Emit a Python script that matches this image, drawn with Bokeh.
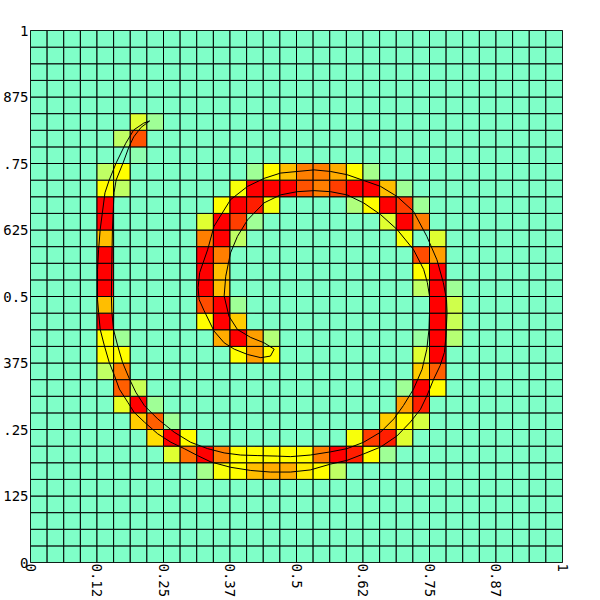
import math
from bokeh.plotting import figure
from bokeh.models import ColumnDataSource, FixedTicker, LinearColorMapper
from bokeh.embed import file_html
from bokeh.resources import INLINE

# ---------------- data ----------------
grid_n = 32

# cells that are not background: row index -> columns and levels (0..8 scale)
row_ids = [26, 25, 24, 23, 22, 21, 20, 19, 18, 17, 16, 15, 14, 13, 12, 11, 10, 9, 8, 7, 6, 5]
row_cols = [
    [6, 7],
    [5, 6],
    [6],
    [4, 5, 13, 14, 15, 16, 17, 18, 19, 20],
    [4, 5, 12, 13, 14, 15, 16, 17, 18, 19, 20, 21, 22],
    [4, 11, 12, 13, 14, 19, 20, 21, 22, 23],
    [4, 10, 11, 12, 13, 21, 22, 23],
    [4, 10, 11, 12, 22, 24],
    [4, 10, 11, 23, 24],
    [4, 10, 11, 23, 24],
    [4, 10, 11, 23, 24, 25],
    [4, 10, 11, 12, 24, 25],
    [4, 10, 11, 12, 24, 25],
    [4, 5, 11, 12, 13, 14, 23, 24, 25],
    [4, 5, 12, 13, 14, 23, 24],
    [4, 5, 23, 24],
    [5, 6, 22, 23, 24],
    [5, 6, 7, 22, 23],
    [6, 7, 8, 21, 22, 23],
    [7, 8, 9, 19, 20, 21, 22],
    [8, 9, 10, 11, 12, 13, 14, 15, 16, 17, 18, 19, 20, 21],
    [10, 11, 12, 13, 14, 15, 16, 17, 18],
]
row_levels = [
    [3, 1],
    [2, 6.7],
    [0.5],
    [2, 4, 1, 4, 5, 6, 6, 5.3, 4, 1.2],
    [4, 2, 3.8, 8, 8, 8, 6.7, 6, 7, 8, 8, 5, 1],
    [8, 4, 8, 7.5, 3.7, 1.5, 4, 8, 7, 1],
    [8, 3, 8, 7, 1, 3, 8, 6],
    [5, 6, 8, 2, 3.8, 3],
    [8, 8, 6, 6.8, 5.5],
    [8, 8, 5, 4, 8],
    [8, 8, 5, 2, 8, 1],
    [5, 6.8, 8, 1, 8, 2.5],
    [8, 4, 8, 4.8, 8, 2.3],
    [4, 1, 5.3, 8, 5.5, 1.6, 0.8, 8, 1.7],
    [4, 4, 4, 5.5, 4, 3, 8],
    [2, 6, 4.8, 6.5],
    [6.5, 2.3, 1, 8, 4],
    [3.3, 8, 1, 5.5, 7.5],
    [4.8, 6.5, 1, 4.8, 4, 2.7],
    [4.5, 8, 4, 3.8, 7, 7.5, 3],
    [3, 6.3, 8, 6, 4, 4, 4, 4, 4, 6, 8, 7.5, 4, 1],
    [1.2, 3.8, 4, 5, 5.3, 5.3, 4.3, 4, 2],
]

tick_values = [0.0, 0.125, 0.25, 0.375, 0.5, 0.625, 0.75, 0.875, 1.0]
x_tick_labels = ["0", "0.12", "0.25", "0.37", "0.5", "0.62", "0.75", "0.87", "1"]
y_tick_labels = ["0", "125", ".25", "375", "0.5", "625", ".75", "875", "1"]

outer_x = [0.224, 0.213, 0.194, 0.179, 0.161, 0.148, 0.140, 0.131, 0.128, 0.126,
           0.126, 0.128, 0.131, 0.139, 0.148, 0.158, 0.167, 0.183, 0.195, 0.214,
           0.239, 0.264, 0.289, 0.314, 0.339, 0.376, 0.414, 0.451, 0.489, 0.526,
           0.564, 0.595, 0.626, 0.658, 0.689, 0.714, 0.733, 0.745, 0.758, 0.770,
           0.778, 0.781, 0.783, 0.782, 0.776, 0.764, 0.745, 0.720, 0.689, 0.658,
           0.595, 0.564, 0.533, 0.470, 0.439, 0.408, 0.376, 0.345, 0.333, 0.318,
           0.315, 0.317, 0.326, 0.345, 0.364, 0.383, 0.408, 0.433, 0.451, 0.458]
outer_y = [0.830, 0.826, 0.813, 0.788, 0.751, 0.719, 0.695, 0.626, 0.588, 0.551,
           0.494, 0.470, 0.438, 0.407, 0.376, 0.351, 0.326, 0.301, 0.282, 0.264,
           0.242, 0.226, 0.214, 0.201, 0.189, 0.179, 0.173, 0.170, 0.170, 0.174,
           0.185, 0.192, 0.204, 0.217, 0.238, 0.264, 0.288, 0.313, 0.345, 0.370,
           0.395, 0.426, 0.470, 0.494, 0.526, 0.569, 0.613, 0.660, 0.688, 0.707,
           0.729, 0.735, 0.738, 0.732, 0.722, 0.707, 0.682, 0.632, 0.588, 0.545,
           0.517, 0.494, 0.474, 0.435, 0.413, 0.401, 0.391, 0.385, 0.388, 0.401]

inner_x = [0.224, 0.208, 0.194, 0.185, 0.174, 0.161, 0.157, 0.154, 0.153, 0.152,
           0.153, 0.156, 0.164, 0.173, 0.186, 0.198, 0.214, 0.239, 0.270, 0.301,
           0.333, 0.364, 0.395, 0.426, 0.464, 0.489, 0.526, 0.564, 0.595, 0.626,
           0.658, 0.683, 0.701, 0.720, 0.736, 0.745, 0.749, 0.750, 0.750, 0.746,
           0.739, 0.720, 0.689, 0.658, 0.626, 0.595, 0.564, 0.533, 0.501, 0.470,
           0.439, 0.408, 0.389, 0.376, 0.367, 0.364, 0.373, 0.389, 0.414, 0.439,
           0.458]
inner_y = [0.830, 0.818, 0.800, 0.781, 0.751, 0.719, 0.695, 0.626, 0.569, 0.501,
           0.470, 0.438, 0.407, 0.376, 0.345, 0.320, 0.295, 0.270, 0.245, 0.226,
           0.214, 0.206, 0.202, 0.201, 0.200, 0.199, 0.202, 0.208, 0.214, 0.226,
           0.245, 0.270, 0.295, 0.326, 0.363, 0.401, 0.438, 0.470, 0.501, 0.526,
           0.551, 0.588, 0.626, 0.654, 0.676, 0.691, 0.697, 0.699, 0.697, 0.691,
           0.676, 0.644, 0.613, 0.582, 0.538, 0.501, 0.463, 0.438, 0.423, 0.413,
           0.401]

# ---------------- colour ramp (style) ----------------
def level_rgb(level):
    if level <= 4:
        t = level / 4.0
        return (127 + 128 * t, 255, 200 - 200 * t)
    s = (level - 4) / 4.0
    return (255, 255 - 255 * s, 0)

palette = ["#%02x%02x%02x" % tuple(int(round(c)) for c in level_rgb(8.0 * i / 255)) for i in range(256)]
mapper = LinearColorMapper(palette=palette, low=0, high=8)

# ---------------- full grid ----------------
grid = [[0.0] * grid_n for _ in range(grid_n)]
for r, cols, levels in zip(row_ids, row_cols, row_levels):
    for c, lv in zip(cols, levels):
        grid[r][c] = lv

cx, cy, cv = [], [], []
for r in range(grid_n):
    for c in range(grid_n):
        cx.append((c + 0.5) / grid_n)
        cy.append((r + 0.5) / grid_n)
        cv.append(grid[r][c])
src = ColumnDataSource(data=dict(x=cx, y=cy, v=cv))

# ---------------- figure ----------------
p = figure(width=584, height=600, x_range=(0, 1), y_range=(0, 1),
           output_backend="svg", toolbar_location=None,
           min_border_left=0, min_border_top=30, min_border_right=22, min_border_bottom=0)
p.background_fill_color = "white"
p.border_fill_color = "white"
p.outline_line_color = "black"
p.outline_line_width = 1
p.grid.visible = False

p.rect(x="x", y="y", width=1.0 / grid_n, height=1.0 / grid_n, source=src,
       fill_color={"field": "v", "transform": mapper}, line_color="black", line_width=1)
p.line(outer_x, outer_y, line_color="black", line_width=1)
p.line(inner_x, inner_y, line_color="black", line_width=1)

for ax in (p.xaxis, p.yaxis):
    ax.ticker = FixedTicker(ticks=tick_values)
    ax.axis_line_color = None
    ax.major_tick_line_color = None
    ax.minor_tick_line_color = None
    ax.major_tick_out = 0
    ax.major_tick_in = 0
    ax.major_label_text_font = "DejaVu Sans Mono"
    ax.major_label_text_font_size = "14px"
    ax.major_label_text_color = "black"

p.xaxis.major_label_overrides = dict(zip(tick_values, x_tick_labels))
p.yaxis.major_label_overrides = dict(zip(tick_values, y_tick_labels))
p.xaxis.major_label_orientation = -math.pi / 2
p.xaxis.major_label_standoff = 1
p.yaxis.major_label_standoff = 2

open("out.html", "w").write(file_html(p, INLINE))
